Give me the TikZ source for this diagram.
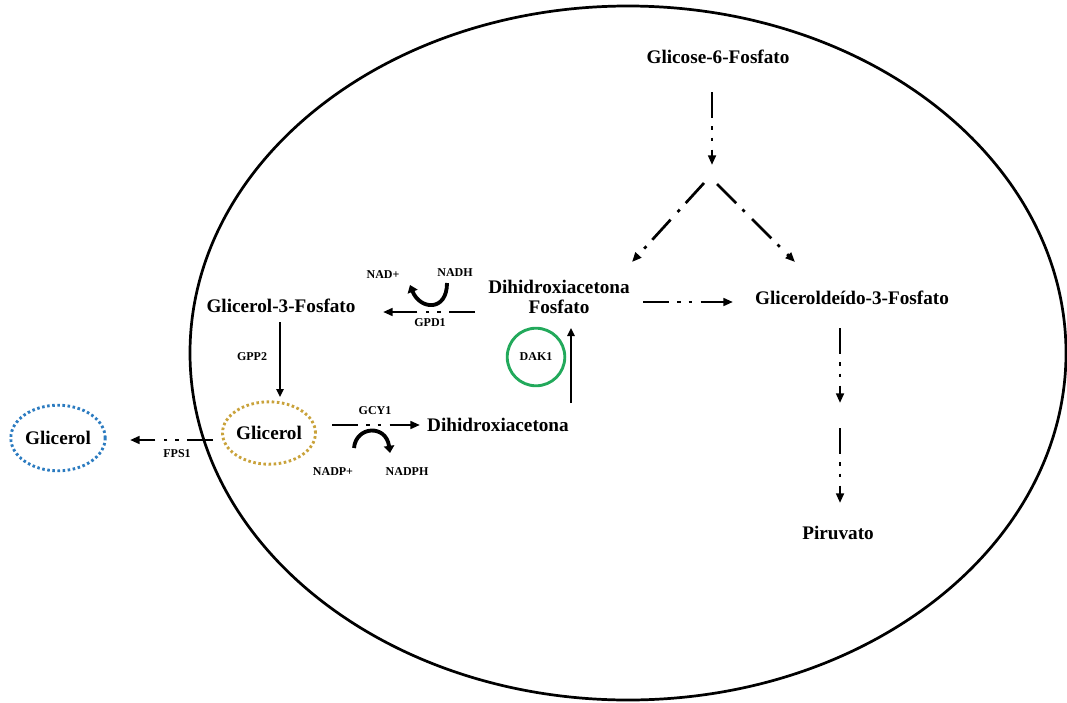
\documentclass[tikz,border=0pt]{standalone}
\usepackage{fontspec}
\setmainfont{Liberation Serif}
\usepackage{tikz}
\usetikzlibrary{arrows.meta,positioning,calc,shapes.geometric}
\definecolor{dakgreen}{HTML}{22A95B}
\definecolor{glygold}{HTML}{C9A23A}
\definecolor{glyblue}{HTML}{2B7BC0}
\tikzset{
    metab/.style={font=\bfseries\fontsize{12}{13}\selectfont,inner sep=1pt,align=center},
    enzlabel/.style={font=\bfseries\fontsize{7.5}{9}\selectfont,inner sep=1pt},
    pathway/.style={-{Triangle[length=6pt,width=4.8pt]},line width=1.7pt},
    ddflow/.style={pathway,dash pattern=on 16pt off 5.5pt on 2pt off 5pt on 2pt off 5.5pt},
    dflow/.style={pathway,dash pattern=on 17pt off 5.5pt on 2pt off 6.5pt},
    thinflow/.style={-{Triangle[length=5pt,width=4.5pt]},line width=1.2pt},
    cofactor/.style={-{Triangle[length=4.5pt,width=6.5pt]},line width=2.4pt},
    dotring/.style={ellipse,line width=1.8pt,dash pattern=on 1.6pt off 1.6pt,
      minimum width=57.5pt,minimum height=39pt,inner sep=0pt}
}
\begin{document}
\begin{tikzpicture}[x=0.625pt,y=-0.625pt]
  \useasboundingbox (0,0) rectangle (1067,702);
  \draw[line width=1.7pt] (628,353) ellipse [x radius=438,y radius=347];
  % metabolites
  \node[metab] (g6p) at (718,57) {Glicose-6-Fosfato};
  \node[metab] (dhap) at (559,297) {Dihidroxiacetona\\Fosfato};
  \node[metab] (gap) at (852,298) {Gliceroldeído-3-Fosfato};
  \node[metab] (pyr) at (838,533) {Piruvato};
  \node[metab] (g3pol) at (281,306) {Glicerol-3-Fosfato};
  \node[metab] (dha) at (498,425) {Dihidroxiacetona};
  \node[metab,dotring,draw=glygold] (glyc) at (269,433) {Glicerol};
  \node[metab,dotring,draw=glyblue,minimum width=59pt,minimum height=41pt] (glyout) at (58,438) {Glicerol};
  \node[enzlabel,circle,draw=dakgreen,line width=1.8pt,minimum size=36pt] (dak) at (536,357) {DAK1};
  % enzymes and cofactors
  \node[enzlabel] (gpd) at (430,323) {GPD1};
  \node[enzlabel] (nad) at (383,275) {NAD+};
  \node[enzlabel] (nadh) at (455,273) {NADH};
  \node[enzlabel] (gpp) at (252,357) {GPP2};
  \node[enzlabel] (fps) at (177,454) {FPS1};
  \node[enzlabel] (gcy) at (375,411) {GCY1};
  \node[enzlabel] (nadp) at (333,472) {NADP+};
  \node[enzlabel] (nadph) at (407,472) {NADPH};
  \coordinate (fork) at (712,174);
  \coordinate (gapmid) at (840,415);
  % glycolysis
  \draw[ddflow] ($(g6p)+(-6,35)$) -- ($(fork)+(0,-9)$);
  \draw[dflow] ($(fork)+(-8,9)$) -- ($(dhap)+(73,-35)$);
  \draw[dflow] ($(fork)+(5,10)$) -- ($(gap)+(-57,-36)$);
  \draw[ddflow] ($(dhap)+(84,5)$) -- ($(gap)+(-119,4)$);
  \draw[ddflow] ($(gap)+(-12,30)$) -- ($(gapmid)+(0,-12)$);
  \draw[ddflow] ($(gapmid)+(0,13)$) -- ($(pyr)+(2,-30)$);
  % glycerol branch
  \draw[ddflow] ($(dhap)+(-84,15)$) -- ($(g3pol)+(102,6)$);
  \draw[cofactor] ($(nadh)+(-8,10)$) .. controls ($(nadh)+(-8,39)$) and ($(nad)+(37,35)$) .. ($(nad)+(27,10)$);
  \draw[thinflow] ($(g3pol)+(-1,16)$) -- ($(glyc)+(11,-36)$);
  \draw[ddflow] ($(glyc)+(-56,7)$) -- ($(glyout)+(72,2)$);
  \draw[ddflow] ($(glyc)+(63,-8)$) -- ($(dha)+(-78,0)$);
  \draw[cofactor] ($(nadp)+(21,-24)$) .. controls ($(nadp)+(23,-46)$) and ($(nadph)+(-21,-48)$) .. ($(nadph)+(-17,-19)$);
  \draw[thinflow] ($(dha)+(73,-22)$) -- ($(dhap)+(12,31)$);
\end{tikzpicture}
\end{document}
